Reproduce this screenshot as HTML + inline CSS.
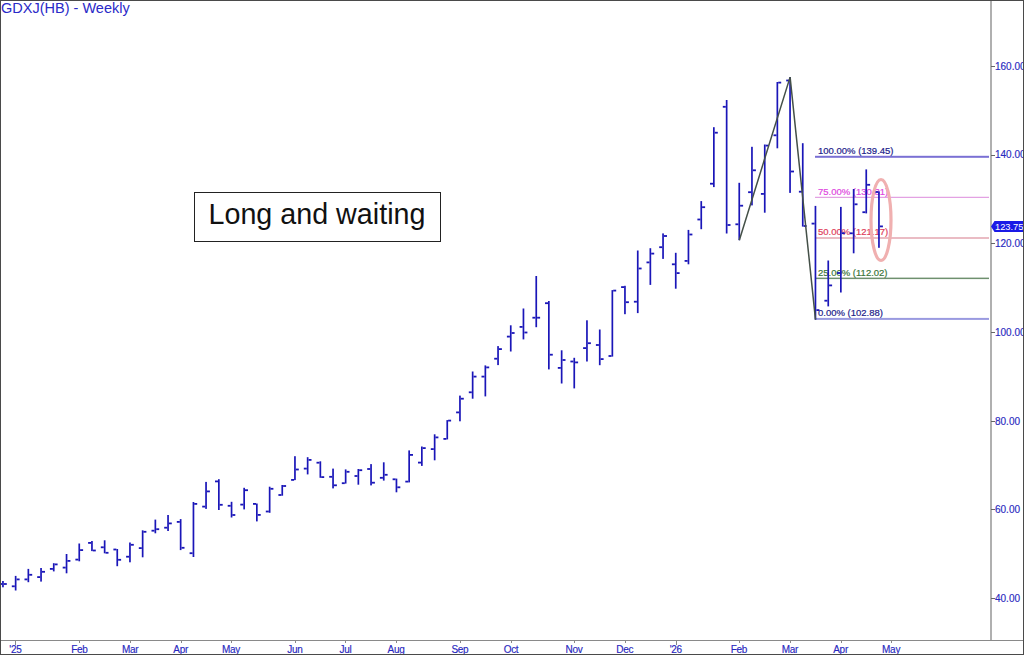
<!DOCTYPE html>
<html><head><meta charset="utf-8"><style>
html,body{margin:0;padding:0;background:#fff;}
body{width:1024px;height:655px;overflow:hidden;position:relative;}
svg{position:absolute;left:0;top:0;}
text{font-family:"Liberation Sans",sans-serif;}
</style></head><body>
<svg width="1024" height="655" viewBox="0 0 1024 655" shape-rendering="crispEdges">
<rect x="0" y="0" width="1024" height="655" fill="#fff"/>
<!-- axes -->
<rect x="990" y="0" width="2" height="641" fill="#b0b0b0"/>
<rect x="0" y="640" width="1024" height="1" fill="#8a8a8a"/>
<rect x="991" y="65.8" width="4" height="1" fill="#666"/><rect x="991" y="154.5" width="4" height="1" fill="#666"/><rect x="991" y="243.2" width="4" height="1" fill="#666"/><rect x="991" y="331.9" width="4" height="1" fill="#666"/><rect x="991" y="420.6" width="4" height="1" fill="#666"/><rect x="991" y="509.3" width="4" height="1" fill="#666"/><rect x="991" y="598.0" width="4" height="1" fill="#666"/>
<rect x="15.4" y="641" width="1" height="4" fill="#888"/><rect x="79.3" y="641" width="1" height="2" fill="#888"/><rect x="130.1" y="641" width="1" height="2" fill="#888"/><rect x="180.7" y="641" width="1" height="2" fill="#888"/><rect x="230.9" y="641" width="1" height="2" fill="#888"/><rect x="294.9" y="641" width="1" height="2" fill="#888"/><rect x="345.4" y="641" width="1" height="2" fill="#888"/><rect x="396.0" y="641" width="1" height="2" fill="#888"/><rect x="459.9" y="641" width="1" height="2" fill="#888"/><rect x="511.0" y="641" width="1" height="2" fill="#888"/><rect x="574.0" y="641" width="1" height="2" fill="#888"/><rect x="624.7" y="641" width="1" height="2" fill="#888"/><rect x="675.8" y="641" width="1" height="4" fill="#888"/><rect x="738.8" y="641" width="1" height="2" fill="#888"/><rect x="789.8" y="641" width="1" height="2" fill="#888"/><rect x="840.6" y="641" width="1" height="2" fill="#888"/><rect x="891.1" y="641" width="1" height="2" fill="#888"/>
<g fill="#2828c0" stroke="#2828c0" stroke-width="0.15" font-size="10" letter-spacing="-0.3" text-anchor="middle"><text x="15.4" y="652.8">'25</text><text x="79.3" y="652.8">Feb</text><text x="130.1" y="652.8">Mar</text><text x="180.7" y="652.8">Apr</text><text x="230.9" y="652.8">May</text><text x="294.9" y="652.8">Jun</text><text x="345.4" y="652.8">Jul</text><text x="396.0" y="652.8">Aug</text><text x="459.9" y="652.8">Sep</text><text x="511.0" y="652.8">Oct</text><text x="574.0" y="652.8">Nov</text><text x="624.7" y="652.8">Dec</text><text x="675.8" y="652.8">'26</text><text x="738.8" y="652.8">Feb</text><text x="789.8" y="652.8">Mar</text><text x="840.6" y="652.8">Apr</text><text x="891.1" y="652.8">May</text></g>
<g fill="#2828c0" stroke="#2828c0" stroke-width="0.15" font-size="10"><text x="995" y="69.7">160.00</text><text x="995" y="158.4">140.00</text><text x="995" y="247.1">120.00</text><text x="995" y="335.8">100.00</text><text x="995" y="424.5">80.00</text><text x="995" y="513.2">60.00</text><text x="995" y="601.9">40.00</text></g>
<!-- fib -->
<g font-size="9.5"><rect x="815" y="155.8" width="174" height="2" fill="#7a70d4" shape-rendering="geometricPrecision"/><text x="818" y="154.2" fill="#22228a" stroke="#22228a" stroke-width="0.2">100.00% (139.45)</text><rect x="815" y="196.8" width="174" height="1" fill="#dc8cdc" shape-rendering="geometricPrecision"/><text x="818" y="194.7" fill="#e048e0" stroke="#e048e0" stroke-width="0.2">75.00% (130.31)</text><rect x="815" y="237.3" width="174" height="1.4" fill="#e2a0ac" shape-rendering="geometricPrecision"/><text x="818" y="235.4" fill="#e0405c" stroke="#e0405c" stroke-width="0.2">50.00% (121.17)</text><rect x="815" y="277.6" width="174" height="1.5" fill="#6e906e" shape-rendering="geometricPrecision"/><text x="818" y="275.8" fill="#3a763a" stroke="#3a763a" stroke-width="0.2">25.00% (112.02)</text><rect x="815" y="317.9" width="174" height="2" fill="#9a9ae0" shape-rendering="geometricPrecision"/><text x="818" y="316.3" fill="#22228a" stroke="#22228a" stroke-width="0.2">0.00% (102.88)</text></g>
<!-- bars -->
<g fill="#1a16b8" shape-rendering="geometricPrecision">
<rect x="2.1" y="581.0" width="1.7" height="6.3"/>
<rect x="-0.9" y="583.1" width="3.0" height="1.8"/>
<rect x="3.8" y="583.1" width="3.0" height="1.8"/>
<rect x="14.8" y="575.9" width="1.7" height="14.6"/>
<rect x="11.8" y="585.4" width="3.0" height="1.8"/>
<rect x="16.6" y="578.5" width="3.0" height="1.8"/>
<rect x="27.5" y="568.9" width="1.7" height="13.3"/>
<rect x="24.5" y="578.5" width="3.0" height="1.8"/>
<rect x="29.2" y="573.9" width="3.0" height="1.8"/>
<rect x="40.2" y="568.0" width="1.7" height="13.6"/>
<rect x="37.2" y="576.2" width="3.0" height="1.8"/>
<rect x="42.0" y="570.9" width="3.0" height="1.8"/>
<rect x="52.9" y="563.2" width="1.7" height="8.2"/>
<rect x="49.9" y="568.0" width="3.0" height="1.8"/>
<rect x="54.6" y="563.5" width="3.0" height="1.8"/>
<rect x="65.7" y="554.0" width="1.7" height="19.3"/>
<rect x="62.7" y="566.7" width="3.0" height="1.8"/>
<rect x="67.4" y="560.0" width="3.0" height="1.8"/>
<rect x="78.4" y="543.5" width="1.7" height="17.8"/>
<rect x="75.4" y="558.7" width="3.0" height="1.8"/>
<rect x="80.1" y="549.2" width="3.0" height="1.8"/>
<rect x="91.1" y="541.0" width="1.7" height="10.1"/>
<rect x="88.1" y="542.0" width="3.0" height="1.8"/>
<rect x="92.8" y="549.6" width="3.0" height="1.8"/>
<rect x="103.8" y="540.3" width="1.7" height="13.0"/>
<rect x="100.8" y="546.4" width="3.0" height="1.8"/>
<rect x="105.5" y="551.9" width="3.0" height="1.8"/>
<rect x="116.4" y="549.0" width="1.7" height="17.2"/>
<rect x="113.4" y="548.6" width="3.0" height="1.8"/>
<rect x="118.1" y="558.9" width="3.0" height="1.8"/>
<rect x="129.1" y="542.5" width="1.7" height="19.8"/>
<rect x="126.1" y="555.8" width="3.0" height="1.8"/>
<rect x="130.8" y="543.9" width="3.0" height="1.8"/>
<rect x="141.8" y="530.3" width="1.7" height="27.0"/>
<rect x="138.8" y="547.2" width="3.0" height="1.8"/>
<rect x="143.4" y="530.9" width="3.0" height="1.8"/>
<rect x="154.5" y="519.6" width="1.7" height="13.7"/>
<rect x="151.5" y="529.8" width="3.0" height="1.8"/>
<rect x="156.2" y="528.3" width="3.0" height="1.8"/>
<rect x="167.2" y="515.0" width="1.7" height="16.0"/>
<rect x="164.2" y="526.8" width="3.0" height="1.8"/>
<rect x="168.8" y="522.5" width="3.0" height="1.8"/>
<rect x="179.8" y="519.1" width="1.7" height="31.0"/>
<rect x="176.8" y="521.0" width="3.0" height="1.8"/>
<rect x="181.5" y="546.9" width="3.0" height="1.8"/>
<rect x="192.6" y="502.0" width="1.7" height="55.0"/>
<rect x="189.6" y="552.3" width="3.0" height="1.8"/>
<rect x="194.2" y="503.0" width="3.0" height="1.8"/>
<rect x="205.2" y="481.9" width="1.7" height="27.0"/>
<rect x="202.2" y="505.7" width="3.0" height="1.8"/>
<rect x="206.9" y="490.5" width="3.0" height="1.8"/>
<rect x="218.0" y="479.2" width="1.7" height="30.8"/>
<rect x="215.0" y="480.5" width="3.0" height="1.8"/>
<rect x="219.7" y="503.9" width="3.0" height="1.8"/>
<rect x="230.7" y="501.8" width="1.7" height="15.7"/>
<rect x="227.7" y="504.9" width="3.0" height="1.8"/>
<rect x="232.3" y="514.1" width="3.0" height="1.8"/>
<rect x="243.3" y="487.8" width="1.7" height="21.6"/>
<rect x="240.3" y="503.7" width="3.0" height="1.8"/>
<rect x="245.0" y="489.3" width="3.0" height="1.8"/>
<rect x="256.0" y="503.5" width="1.7" height="17.9"/>
<rect x="253.0" y="503.0" width="3.0" height="1.8"/>
<rect x="257.7" y="514.0" width="3.0" height="1.8"/>
<rect x="268.8" y="486.7" width="1.7" height="26.1"/>
<rect x="265.8" y="510.6" width="3.0" height="1.8"/>
<rect x="270.4" y="487.9" width="3.0" height="1.8"/>
<rect x="281.4" y="485.0" width="1.7" height="10.7"/>
<rect x="278.4" y="494.1" width="3.0" height="1.8"/>
<rect x="283.1" y="485.1" width="3.0" height="1.8"/>
<rect x="294.1" y="456.2" width="1.7" height="23.9"/>
<rect x="291.1" y="479.0" width="3.0" height="1.8"/>
<rect x="295.8" y="468.6" width="3.0" height="1.8"/>
<rect x="306.8" y="457.2" width="1.7" height="17.2"/>
<rect x="303.8" y="467.7" width="3.0" height="1.8"/>
<rect x="308.5" y="459.0" width="3.0" height="1.8"/>
<rect x="319.5" y="461.3" width="1.7" height="16.5"/>
<rect x="316.5" y="461.8" width="3.0" height="1.8"/>
<rect x="321.2" y="476.2" width="3.0" height="1.8"/>
<rect x="332.2" y="468.6" width="1.7" height="19.8"/>
<rect x="329.2" y="475.9" width="3.0" height="1.8"/>
<rect x="333.9" y="484.4" width="3.0" height="1.8"/>
<rect x="344.8" y="469.4" width="1.7" height="14.2"/>
<rect x="341.8" y="482.3" width="3.0" height="1.8"/>
<rect x="346.5" y="470.9" width="3.0" height="1.8"/>
<rect x="357.5" y="469.0" width="1.7" height="15.7"/>
<rect x="354.5" y="475.1" width="3.0" height="1.8"/>
<rect x="359.2" y="469.3" width="3.0" height="1.8"/>
<rect x="370.2" y="464.1" width="1.7" height="21.3"/>
<rect x="367.2" y="468.1" width="3.0" height="1.8"/>
<rect x="371.9" y="481.8" width="3.0" height="1.8"/>
<rect x="382.9" y="462.3" width="1.7" height="18.3"/>
<rect x="379.9" y="476.9" width="3.0" height="1.8"/>
<rect x="384.6" y="473.9" width="3.0" height="1.8"/>
<rect x="395.6" y="478.6" width="1.7" height="13.7"/>
<rect x="392.6" y="478.4" width="3.0" height="1.8"/>
<rect x="397.3" y="486.4" width="3.0" height="1.8"/>
<rect x="408.3" y="450.4" width="1.7" height="32.0"/>
<rect x="405.3" y="480.7" width="3.0" height="1.8"/>
<rect x="410.0" y="454.0" width="3.0" height="1.8"/>
<rect x="421.0" y="446.5" width="1.7" height="19.4"/>
<rect x="418.0" y="461.7" width="3.0" height="1.8"/>
<rect x="422.7" y="447.2" width="3.0" height="1.8"/>
<rect x="433.8" y="434.3" width="1.7" height="26.0"/>
<rect x="430.8" y="448.2" width="3.0" height="1.8"/>
<rect x="435.4" y="436.5" width="3.0" height="1.8"/>
<rect x="446.4" y="420.1" width="1.7" height="19.3"/>
<rect x="443.4" y="438.0" width="3.0" height="1.8"/>
<rect x="448.1" y="419.7" width="3.0" height="1.8"/>
<rect x="459.1" y="395.6" width="1.7" height="25.7"/>
<rect x="456.1" y="411.5" width="3.0" height="1.8"/>
<rect x="460.8" y="397.8" width="3.0" height="1.8"/>
<rect x="471.8" y="371.5" width="1.7" height="27.2"/>
<rect x="468.8" y="391.4" width="3.0" height="1.8"/>
<rect x="473.5" y="375.7" width="3.0" height="1.8"/>
<rect x="484.5" y="365.4" width="1.7" height="31.0"/>
<rect x="481.5" y="375.7" width="3.0" height="1.8"/>
<rect x="486.2" y="366.5" width="3.0" height="1.8"/>
<rect x="497.2" y="346.1" width="1.7" height="19.0"/>
<rect x="494.2" y="357.8" width="3.0" height="1.8"/>
<rect x="498.9" y="348.2" width="3.0" height="1.8"/>
<rect x="509.9" y="325.3" width="1.7" height="26.2"/>
<rect x="506.9" y="335.7" width="3.0" height="1.8"/>
<rect x="511.6" y="332.1" width="3.0" height="1.8"/>
<rect x="522.6" y="308.5" width="1.7" height="30.9"/>
<rect x="519.6" y="326.0" width="3.0" height="1.8"/>
<rect x="524.4" y="331.6" width="3.0" height="1.8"/>
<rect x="535.4" y="276.0" width="1.7" height="51.2"/>
<rect x="532.4" y="316.8" width="3.0" height="1.8"/>
<rect x="537.1" y="316.8" width="3.0" height="1.8"/>
<rect x="548.0" y="301.0" width="1.7" height="68.4"/>
<rect x="545.0" y="302.3" width="3.0" height="1.8"/>
<rect x="549.8" y="353.8" width="3.0" height="1.8"/>
<rect x="560.8" y="350.3" width="1.7" height="33.2"/>
<rect x="557.8" y="367.0" width="3.0" height="1.8"/>
<rect x="562.5" y="359.1" width="3.0" height="1.8"/>
<rect x="573.4" y="357.8" width="1.7" height="30.6"/>
<rect x="570.4" y="360.6" width="3.0" height="1.8"/>
<rect x="575.1" y="361.5" width="3.0" height="1.8"/>
<rect x="586.1" y="320.3" width="1.7" height="41.2"/>
<rect x="583.1" y="347.2" width="3.0" height="1.8"/>
<rect x="587.9" y="342.3" width="3.0" height="1.8"/>
<rect x="598.9" y="329.5" width="1.7" height="35.7"/>
<rect x="595.9" y="344.1" width="3.0" height="1.8"/>
<rect x="600.6" y="358.2" width="3.0" height="1.8"/>
<rect x="611.5" y="290.1" width="1.7" height="66.5"/>
<rect x="608.5" y="355.1" width="3.0" height="1.8"/>
<rect x="613.2" y="289.7" width="3.0" height="1.8"/>
<rect x="624.1" y="285.8" width="1.7" height="28.4"/>
<rect x="621.1" y="286.2" width="3.0" height="1.8"/>
<rect x="625.9" y="301.3" width="3.0" height="1.8"/>
<rect x="636.9" y="250.5" width="1.7" height="62.6"/>
<rect x="633.9" y="300.8" width="3.0" height="1.8"/>
<rect x="638.6" y="267.6" width="3.0" height="1.8"/>
<rect x="649.5" y="248.2" width="1.7" height="36.7"/>
<rect x="646.5" y="261.5" width="3.0" height="1.8"/>
<rect x="651.2" y="252.7" width="3.0" height="1.8"/>
<rect x="662.2" y="233.4" width="1.7" height="25.5"/>
<rect x="659.2" y="246.3" width="3.0" height="1.8"/>
<rect x="664.0" y="235.1" width="3.0" height="1.8"/>
<rect x="674.9" y="252.8" width="1.7" height="35.9"/>
<rect x="671.9" y="263.4" width="3.0" height="1.8"/>
<rect x="676.6" y="272.2" width="3.0" height="1.8"/>
<rect x="687.6" y="229.9" width="1.7" height="34.4"/>
<rect x="684.6" y="260.0" width="3.0" height="1.8"/>
<rect x="689.4" y="233.6" width="3.0" height="1.8"/>
<rect x="700.4" y="201.1" width="1.7" height="28.1"/>
<rect x="697.4" y="218.6" width="3.0" height="1.8"/>
<rect x="702.1" y="206.3" width="3.0" height="1.8"/>
<rect x="713.0" y="127.2" width="1.7" height="59.9"/>
<rect x="710.0" y="182.8" width="3.0" height="1.8"/>
<rect x="714.8" y="131.8" width="3.0" height="1.8"/>
<rect x="725.8" y="100.0" width="1.7" height="133.5"/>
<rect x="722.8" y="105.9" width="3.0" height="1.8"/>
<rect x="727.5" y="224.1" width="3.0" height="1.8"/>
<rect x="738.4" y="182.8" width="1.7" height="57.4"/>
<rect x="735.4" y="223.4" width="3.0" height="1.8"/>
<rect x="740.1" y="204.8" width="3.0" height="1.8"/>
<rect x="751.1" y="146.8" width="1.7" height="58.6"/>
<rect x="748.1" y="191.3" width="3.0" height="1.8"/>
<rect x="752.9" y="169.4" width="3.0" height="1.8"/>
<rect x="763.9" y="144.5" width="1.7" height="68.2"/>
<rect x="760.9" y="193.0" width="3.0" height="1.8"/>
<rect x="765.6" y="144.7" width="3.0" height="1.8"/>
<rect x="776.5" y="82.0" width="1.7" height="66.3"/>
<rect x="773.5" y="134.4" width="3.0" height="1.8"/>
<rect x="778.2" y="81.7" width="3.0" height="1.8"/>
<rect x="789.2" y="77.1" width="1.7" height="115.8"/>
<rect x="786.2" y="79.6" width="3.0" height="1.8"/>
<rect x="791.0" y="170.6" width="3.0" height="1.8"/>
<rect x="801.9" y="143.2" width="1.7" height="83.4"/>
<rect x="798.9" y="190.8" width="3.0" height="1.8"/>
<rect x="803.6" y="225.1" width="3.0" height="1.8"/>
<rect x="814.6" y="205.9" width="1.7" height="113.7"/>
<rect x="811.6" y="222.7" width="3.0" height="1.8"/>
<rect x="816.4" y="309.2" width="3.0" height="1.8"/>
<rect x="827.4" y="260.5" width="1.7" height="45.9"/>
<rect x="824.4" y="299.8" width="3.0" height="1.8"/>
<rect x="829.1" y="284.5" width="3.0" height="1.8"/>
<rect x="840.0" y="206.9" width="1.7" height="85.6"/>
<rect x="837.0" y="272.1" width="3.0" height="1.8"/>
<rect x="841.8" y="232.3" width="3.0" height="1.8"/>
<rect x="852.8" y="189.0" width="1.7" height="64.3"/>
<rect x="849.8" y="232.4" width="3.0" height="1.8"/>
<rect x="854.5" y="203.4" width="3.0" height="1.8"/>
<rect x="865.4" y="169.4" width="1.7" height="44.0"/>
<rect x="862.4" y="211.3" width="3.0" height="1.8"/>
<rect x="867.1" y="183.9" width="3.0" height="1.8"/>
<rect x="878.1" y="191.3" width="1.7" height="56.5"/>
<rect x="875.1" y="191.1" width="3.0" height="1.8"/>
<rect x="879.9" y="225.5" width="3.0" height="1.8"/>
</g>
<!-- zigzag -->
<polyline points="739.3,240.2 790.1,77.1 815.5,319.6" fill="none" stroke="#445048" stroke-width="1.5" shape-rendering="geometricPrecision"/>
<!-- ellipse -->
<ellipse cx="881" cy="220" rx="10" ry="40.5" fill="none" stroke="#f0b0b0" stroke-width="3.2" shape-rendering="geometricPrecision"/>
<!-- badge -->
<path d="M991,226.4 L994.5,221 L1024,221 L1024,232 L994.5,232 Z" fill="#1a1ae6" shape-rendering="geometricPrecision"/>
<text x="995" y="230.3" font-size="9.3" fill="#fff">123.75</text>
<!-- title -->
<text x="1.1" y="13.3" font-size="14.5" fill="#2a2ac8">GDXJ(HB) - Weekly</text>
<!-- annotation box -->
<rect x="194.5" y="192" width="246" height="49.5" fill="#fff" stroke="#222" stroke-width="1"/>
<text x="208.5" y="223.8" font-size="28.7" fill="#111">Long and waiting</text>
<!-- outer border -->
<rect x="0" y="0" width="1024" height="1" fill="#4a4a4a"/>
<rect x="0" y="0" width="1" height="655" fill="#4a4a4a"/>
<rect x="1023" y="0" width="1" height="655" fill="#4a4a4a"/>
<rect x="0" y="654" width="1024" height="1" fill="#4a4a4a"/>
</svg>
</body></html>
